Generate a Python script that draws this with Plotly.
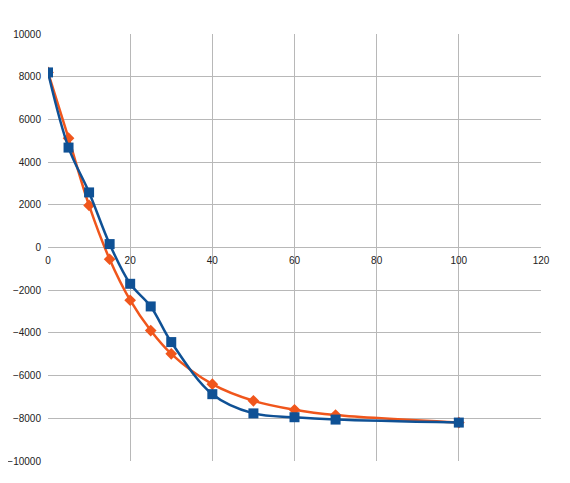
import plotly.graph_objects as go

x_blue = [0, 5, 10, 15, 20, 25, 30, 40, 50, 60, 70, 100]
y_blue = [8200, 4680, 2580, 160, -1700, -2760, -4430, -6870, -7770, -7950, -8060, -8200]
x_orange = [0, 5, 10, 15, 20, 25, 30, 40, 50, 60, 70, 100]
y_orange = [8200, 5120, 1970, -550, -2470, -3890, -4980, -6400, -7180, -7600, -7850, -8200]

x_ticks = [0, 20, 40, 60, 80, 100, 120]
y_ticks = [-10000, -8000, -6000, -4000, -2000, 0, 2000, 4000, 6000, 8000, 10000]

fig = go.Figure()
fig.add_trace(go.Scatter(
    x=x_orange, y=y_orange, mode="lines+markers",
    line=dict(color="#f0561c", width=2.5, shape="spline", smoothing=1),
    marker=dict(symbol="diamond", size=9, color="#f0561c"),
    showlegend=False))
fig.add_trace(go.Scatter(
    x=x_blue, y=y_blue, mode="lines+markers",
    line=dict(color="#0f5195", width=2.5, shape="spline", smoothing=1),
    marker=dict(symbol="square", size=10, color="#0f5195"),
    showlegend=False))

grid = "#b8b8b8"
fig.update_layout(
    width=562, height=475,
    margin=dict(l=39.5, r=29, t=26, b=22, autoexpand=False),
    paper_bgcolor="white", plot_bgcolor="white",
    font=dict(family="Liberation Sans, Arial, sans-serif", size=10, color="#222222"),
    xaxis=dict(range=[0, 120], tickvals=x_ticks, tickformat="d", showgrid=True, gridcolor=grid, gridwidth=1,
               zeroline=False, showline=False, anchor="free", position=0.5,
               ticks="", ticklabelstandoff=5),
    yaxis=dict(range=[-10000, 10000], tickvals=y_ticks, tickformat="d", showgrid=True, gridcolor=grid, gridwidth=1,
               zeroline=False, showline=False, ticks="", domain=[0, 1], ticklabelstandoff=6),
)
fig.write_html("out.html")
